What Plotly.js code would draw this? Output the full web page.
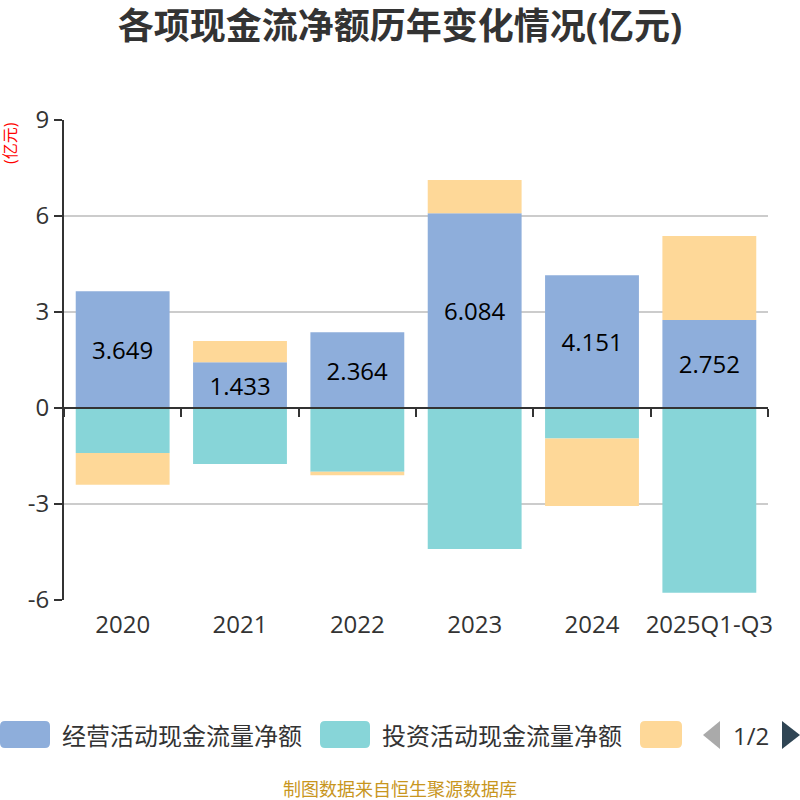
<!DOCTYPE html>
<html>
<head>
<meta charset="utf-8">
<script src="https://cdn.plot.ly/plotly-3.0.1.min.js"></script>
<style>html,body{margin:0;padding:0;background:#fff;}#chart{width:800px;height:800px;}</style>
</head>
<body>
<div id="chart"></div>
<script>
// ---- data ----
const categories = ["2020", "2021", "2022", "2023", "2024", "2025Q1-Q3"];
const seriesNames = ["经营活动现金流量净额", "投资活动现金流量净额", "筹资活动现金流量净额"];
const operating = [3.649, 1.433, 2.364, 6.084, 4.151, 2.752];
const investing = [-1.41, -1.75, -1.99, -4.41, -0.95, -5.77];
const financing = [-0.99, 0.66, -0.11, 1.04, -2.11, 2.62];
const yTickVals = [-6, -3, 0, 3, 6, 9];
const yTickText = ["-6", "-3", "0", "3", "6", "9"];
const colors = ["#8eaedb", "#87d5d8", "#fed898"];

const FONT = 'Open Sans, "Noto Sans CJK SC", sans-serif';

// ---- geometry helpers (pixel -> paper) ----
const L = 64, R = 32, T = 120, B = 200, W = 800, H = 800;
const pw = W - L - R, ph = H - T - B;
const px = v => (v - L) / pw;
const py = v => (H - B - v) / ph;

function roundRect(x0, y0, x1, y1, r) {
  const p = (x, y) => px(x) + "," + py(y);
  return "M" + p(x0 + r, y0) + " L" + p(x1 - r, y0) + " Q" + p(x1, y0) + " " + p(x1, y0 + r) +
    " L" + p(x1, y1 - r) + " Q" + p(x1, y1) + " " + p(x1 - r, y1) +
    " L" + p(x0 + r, y1) + " Q" + p(x0, y1) + " " + p(x0, y1 - r) +
    " L" + p(x0, y0 + r) + " Q" + p(x0, y0) + " " + p(x0 + r, y0) + " Z";
}
function tri(pts) {
  return "M" + pts.map(q => px(q[0]) + "," + py(q[1])).join(" L") + " Z";
}

const traces = [
  {
    type: "bar", name: seriesNames[0], x: categories, y: operating,
    marker: { color: colors[0] },
    text: operating.map(v => v.toFixed(3)),
    textposition: "inside", insidetextanchor: "middle", constraintext: "none",
    textfont: { family: FONT, size: 24, color: "#000" },
    hovertemplate: seriesNames[0] + ": %{y}<extra></extra>", showlegend: false
  },
  {
    type: "bar", name: seriesNames[1], x: categories, y: investing,
    marker: { color: colors[1] }, textposition: "none",
    hovertemplate: seriesNames[1] + ": %{y}<extra></extra>", showlegend: false
  },
  {
    type: "bar", name: seriesNames[2], x: categories, y: financing,
    marker: { color: colors[2] }, textposition: "none",
    hovertemplate: seriesNames[2] + ": %{y}<extra></extra>", showlegend: false
  }
];

// manual legend (page 1 of 2, like the reference)
const shapes = [
  { type: "path", xref: "paper", yref: "paper", path: roundRect(0, 721, 50, 748, 5), fillcolor: colors[0], line: { width: 0 } },
  { type: "path", xref: "paper", yref: "paper", path: roundRect(320, 721, 370, 748, 5), fillcolor: colors[1], line: { width: 0 } },
  { type: "path", xref: "paper", yref: "paper", path: roundRect(640, 721, 682, 748, 5), fillcolor: colors[2], line: { width: 0 } },
  { type: "path", xref: "paper", yref: "paper", path: tri([[720, 721], [720, 749], [703, 735]]), fillcolor: "#aaaaaa", line: { width: 0 } },
  { type: "path", xref: "paper", yref: "paper", path: tri([[782, 721], [782, 749], [800, 735]]), fillcolor: "#2f4554", line: { width: 0 } }
];

const annotations = [
  { xref: "paper", yref: "paper", x: px(60), y: py(735), xanchor: "left", yanchor: "middle", showarrow: false,
    text: seriesNames[0], font: { family: FONT, size: 24, color: "#333" } },
  { xref: "paper", yref: "paper", x: px(380), y: py(735), xanchor: "left", yanchor: "middle", showarrow: false,
    text: seriesNames[1], font: { family: FONT, size: 24, color: "#333" } },
  { xref: "paper", yref: "paper", x: px(751), y: py(735), xanchor: "center", yanchor: "middle", showarrow: false,
    text: "1/2", font: { family: FONT, size: 24, color: "#333" } },
  { xref: "paper", yref: "paper", x: px(400), y: py(789), xanchor: "center", yanchor: "middle", showarrow: false,
    text: "制图数据来自恒生聚源数据库", font: { family: FONT, size: 18, color: "#c8961e" } },
  { xref: "paper", yref: "paper", x: px(10), y: py(143), xanchor: "center", yanchor: "middle", showarrow: false,
    textangle: -90, text: "(亿元)", font: { family: FONT, size: 16, color: "#ff0000" } }
];

const layout = {
  width: W, height: H,
  margin: { l: L, r: R, t: T, b: B },
  paper_bgcolor: "#fff", plot_bgcolor: "#fff",
  barmode: "relative", bargap: 0.2,
  font: { family: FONT, color: "#333" },
  title: { text: "<b>各项现金流净额历年变化情况(亿元)</b>", xref: "container", x: 0.5, xanchor: "center",
    yref: "container", y: 1 - 26 / H, yanchor: "middle",
    font: { family: FONT, size: 36, color: "#333" } },
  xaxis: {
    type: "category", anchor: "free", position: 0.4,
    showline: true, linecolor: "#333", linewidth: 2,
    ticks: "outside", tickson: "boundaries", ticklen: 8, tickwidth: 2, tickcolor: "#333",
    ticklabelstandoff: 195, tickangle: 0,
    showgrid: false, zeroline: false,
    tickfont: { family: FONT, size: 24, color: "#333" },
    fixedrange: true
  },
  yaxis: {
    range: [-6, 9], tickmode: "array", tickvals: yTickVals, ticktext: yTickText,
    showline: true, linecolor: "#333", linewidth: 2,
    ticks: "outside", ticklen: 8, tickwidth: 2, tickcolor: "#333",
    showgrid: true, gridcolor: "#cccccc", gridwidth: 1.5, zeroline: false,
    tickfont: { family: FONT, size: 24, color: "#333" },
    fixedrange: true
  },
  shapes: shapes,
  annotations: annotations,
  showlegend: false
};

Plotly.newPlot("chart", traces, layout, { displayModeBar: false, responsive: false });
</script>
</body>
</html>
